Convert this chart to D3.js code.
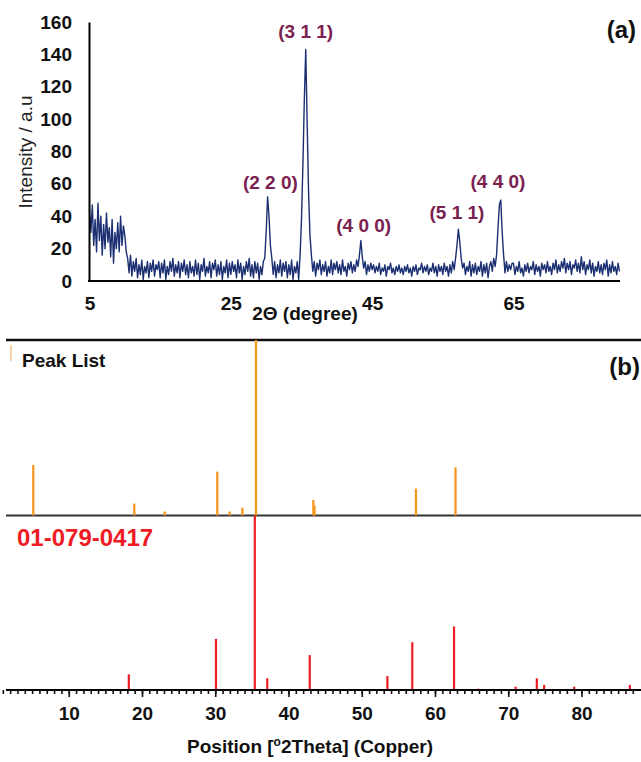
<!DOCTYPE HTML>
<html>
<head>
  <meta charset="utf-8">
  <title>XRD</title>
  <script src="https://d3js.org/d3.v7.min.js" type="text/javascript"></script>
<style>
body { margin: 0; background: #fff; }
svg { display: block; font-family: "Liberation Sans", Arial, sans-serif; }
.axis path { stroke: #000; stroke-width: 2; }
.axis text { font-size: 19px; font-weight: bold; fill: #111; font-family: "Liberation Sans", Arial, sans-serif; }
</style>
</head>
<body>
<script>
// (a) measured pattern, 2theta from 5 to 80 in steps of 0.2
var angleStart = 5, angleStep = 0.2
var intensity = [
  44, 30, 47, 22, 38, 18, 48, 25, 40, 16, 35, 20, 42, 24, 33, 15, 38, 11, 30, 20, 36, 18, 40, 22, 34,
  28, 18, 14, 5, 16, 3, 12, 6, 14, 2, 10, 4, 13, 1, 9, 5, 12, 2, 11, 6, 13, 3, 10, 7, 12,
  2, 11, 5, 13, 1, 9, 4, 12, 6, 14, 3, 10, 5, 12, 2, 11, 6, 13, 4, 10, 2, 12, 5, 9, 3,
  13, 4, 11, 1, 10, 6, 14, 3, 9, 5, 12, 2, 11, 7, 13, 3, 10, 4, 12, 1, 9, 5, 13, 2, 11,
  4, 12, 6, 10, 2, 13, 5, 11, 1, 9, 4, 12, 6, 14, 3, 10, 2, 12, 5, 11, 1, 9, 4, 12, 14,
  30, 52, 40, 22, 14, 4, 12, 2, 10, 5, 13, 3, 11, 6, 12, 2, 10, 4, 13, 1, 9, 5, 12, 1, 16,
  38, 72, 112, 143, 98, 55, 28, 16, 6, 12, 3, 11, 7, 13, 4, 10, 6, 12, 3, 9, 5, 13, 4, 11, 7,
  12, 5, 10, 4, 13, 6, 9, 3, 11, 7, 12, 5, 10, 6, 13, 9, 16, 25, 15, 8, 12, 4, 10, 6, 11,
  7, 10, 5, 9, 6, 11, 4, 8, 6, 10, 3, 9, 7, 11, 5, 8, 4, 9, 6, 10, 5, 8, 4, 9, 6,
  10, 5, 8, 3, 9, 6, 10, 4, 8, 7, 11, 5, 9, 6, 10, 4, 8, 6, 11, 5, 9, 3, 10, 6, 9,
  4, 11, 6, 9, 3, 10, 5, 12, 7, 14, 22, 32, 24, 14, 8, 11, 4, 9, 6, 12, 3, 10, 5, 11, 4,
  9, 6, 12, 3, 10, 5, 11, 2, 9, 12, 6, 14, 9, 16, 32, 47, 50, 30, 16, 5, 12, 6, 10, 7, 11,
  11, 4, 9, 6, 12, 5, 8, 3, 10, 6, 11, 5, 9, 7, 12, 4, 10, 6, 9, 3, 11, 7, 10, 5, 12,
  6, 9, 4, 11, 7, 13, 5, 10, 6, 12, 8, 14, 5, 11, 7, 12, 4, 10, 8, 13, 6, 11, 5, 15, 7,
  12, 4, 10, 7, 13, 5, 11, 3, 9, 6, 12, 5, 10, 4, 11, 7, 13, 3, 10, 5, 12, 6, 9, 4, 11,
  6
]
var yTicksA = [0, 20, 40, 60, 80, 100, 120, 140, 160]
var xTicksA = [5, 25, 45, 65]
var hklText = ["(2 2 0)", "(3 1 1)", "(4 0 0)", "(5 1 1)", "(4 4 0)"]
var hklAngle = [30.6, 35.6, 43.8, 57.0, 62.8]
var hklLevel = [57, 150, 30.3, 38.3, 57.5]

// (b) peak list and reference card, relative intensity %
var peakPos = [5.16, 18.95, 23.1, 30.28, 31.97, 33.7, 35.56, 43.39, 43.55, 57.4, 62.8]
var peakRel = [28.8, 6.8, 2.3, 25, 2.3, 4.5, 100, 8.9, 5.7, 15.3, 27.4]
var refPos = [18.2, 30.1, 35.4, 37.1, 42.9, 53.5, 56.9, 62.6, 65.9, 71.0, 73.9, 74.9, 79.0, 86.6]
var refRel = [9, 29.3, 100, 6.7, 20, 8, 27.4, 36.4, 0.8, 1.9, 6.7, 2.9, 1.9, 2.9]
var xTicksB = [10, 20, 30, 40, 50, 60, 70, 80]

var svg = d3.select("body").append("svg")
    .attr("width", 641)
    .attr("height", 762)

svg.append("rect").attr("width", 641).attr("height", 762).attr("fill", "#fff")

// ---------- (a) ----------
var xa = d3.scaleLinear().domain([5, 80]).range([89.5, 619.5])
var ya = d3.scaleLinear().domain([0, 160]).range([281, 22])

var pattern = intensity.map(function(v, i) { return {x: angleStart + i * angleStep, y: v} })

var line = d3.line()
    .x(function(d) { return xa(d.x) })
    .y(function(d) { return ya(d.y) })

svg.append("path")
    .attr("d", line(pattern))
    .attr("fill", "none")
    .attr("stroke", "#1b2f72")
    .attr("stroke-width", 1.4)
    .attr("stroke-linejoin", "round")

svg.append("g")
    .attr("class", "axis")
    .attr("transform", "translate(89,0)")
    .call(d3.axisLeft(ya).tickValues(yTicksA).tickSize(0).tickSizeOuter(0).tickPadding(17))

svg.append("g")
    .attr("class", "axis")
    .attr("transform", "translate(0,281)")
    .call(d3.axisBottom(xa).tickValues(xTicksA).tickSize(0).tickSizeOuter(0).tickPadding(16))
  .select(".domain")
    .attr("d", "M88,0H620")

svg.append("text")
    .attr("transform", "translate(32,152) rotate(-90)")
    .attr("text-anchor", "middle")
    .attr("font-size", 19)
    .attr("fill", "#222")
    .text("Intensity / a.u")

svg.append("text")
    .attr("x", 305).attr("y", 320)
    .attr("text-anchor", "middle")
    .attr("font-size", 19).attr("font-weight", "bold")
    .attr("fill", "#111")
    .text("2Θ (degree)")

svg.append("g").selectAll("text")
    .data(hklText)
  .enter().append("text")
    .attr("x", function(d, i) { return xa(hklAngle[i]) })
    .attr("y", function(d, i) { return ya(hklLevel[i]) })
    .attr("text-anchor", "middle")
    .attr("font-size", 19).attr("font-weight", "bold")
    .attr("fill", "#7a2150")
    .text(function(d) { return d })

svg.append("text")
    .attr("x", 636).attr("y", 38)
    .attr("text-anchor", "end")
    .attr("font-size", 24).attr("font-weight", "bold")
    .attr("fill", "#111")
    .text("(a)")

// ---------- (b) ----------
var xb = d3.scaleLinear().domain([0, 88]).range([-4.5, 640.1])
var yPeak = d3.scaleLinear().domain([0, 100]).range([515.5, 340])
var yRef = d3.scaleLinear().domain([0, 100]).range([690, 515.5])

svg.append("line")
    .attr("x1", 6).attr("x2", 641).attr("y1", 340).attr("y2", 340)
    .attr("stroke", "#111").attr("stroke-width", 2.6)

svg.append("line")
    .attr("x1", 6).attr("x2", 641).attr("y1", 515.5).attr("y2", 515.5)
    .attr("stroke", "#333").attr("stroke-width", 2)

svg.append("g").selectAll("line")
    .data(peakPos)
  .enter().append("line")
    .attr("x1", function(d) { return xb(d) })
    .attr("x2", function(d) { return xb(d) })
    .attr("y1", yPeak(0))
    .attr("y2", function(d, i) { return yPeak(peakRel[i]) })
    .attr("stroke", "#f7941d")
    .attr("stroke-width", 2.2)

svg.append("g").selectAll("line")
    .data(refPos)
  .enter().append("line")
    .attr("x1", function(d) { return xb(d) })
    .attr("x2", function(d) { return xb(d) })
    .attr("y1", yRef(0))
    .attr("y2", function(d, i) { return yRef(refRel[i]) })
    .attr("stroke", "#ed1c24")
    .attr("stroke-width", 2.2)

// legend swatch
svg.append("line")
    .attr("x1", 11).attr("x2", 11).attr("y1", 345).attr("y2", 361)
    .attr("stroke", "#f5c58a").attr("stroke-width", 1.5)

svg.append("text")
    .attr("x", 22).attr("y", 367)
    .attr("font-size", 19).attr("font-weight", "bold")
    .attr("fill", "#111")
    .text("Peak List")

svg.append("text")
    .attr("x", 640).attr("y", 375)
    .attr("text-anchor", "end")
    .attr("font-size", 24).attr("font-weight", "bold")
    .attr("fill", "#111")
    .text("(b)")

svg.append("text")
    .attr("x", 17).attr("y", 546)
    .attr("font-size", 24).attr("font-weight", "bold")
    .attr("fill", "#ed1c24")
    .text("01-079-0417")

// bottom axis: minor ticks every degree, major every 10
var gb = svg.append("g")
    .attr("class", "axis")
    .attr("transform", "translate(0,690)")
    .call(d3.axisBottom(xb).tickValues(d3.range(1, 88)).tickSize(4).tickSizeOuter(0).tickFormat(""))
gb.select(".domain").attr("d", "M6,0H641").attr("stroke-width", 2.6)
gb.selectAll(".tick line").attr("stroke", "#111").attr("stroke-width", 1.6)

var gm = svg.append("g")
    .attr("class", "axis")
    .attr("transform", "translate(0,690)")
    .call(d3.axisBottom(xb).tickValues(xTicksB).tickSize(7).tickSizeOuter(0).tickPadding(10))
gm.select(".domain").remove()
gm.selectAll(".tick line").attr("stroke", "#111").attr("stroke-width", 1.6)

var title = svg.append("text")
    .attr("x", 310).attr("y", 753)
    .attr("text-anchor", "middle")
    .attr("font-size", 19).attr("font-weight", "bold")
    .attr("fill", "#111")
title.append("tspan").text("Position [")
title.append("tspan").attr("font-size", 12).attr("dy", -7).text("o")
title.append("tspan").attr("dy", 7).text("2Theta] (Copper)")
</script>
</body>
</html>
